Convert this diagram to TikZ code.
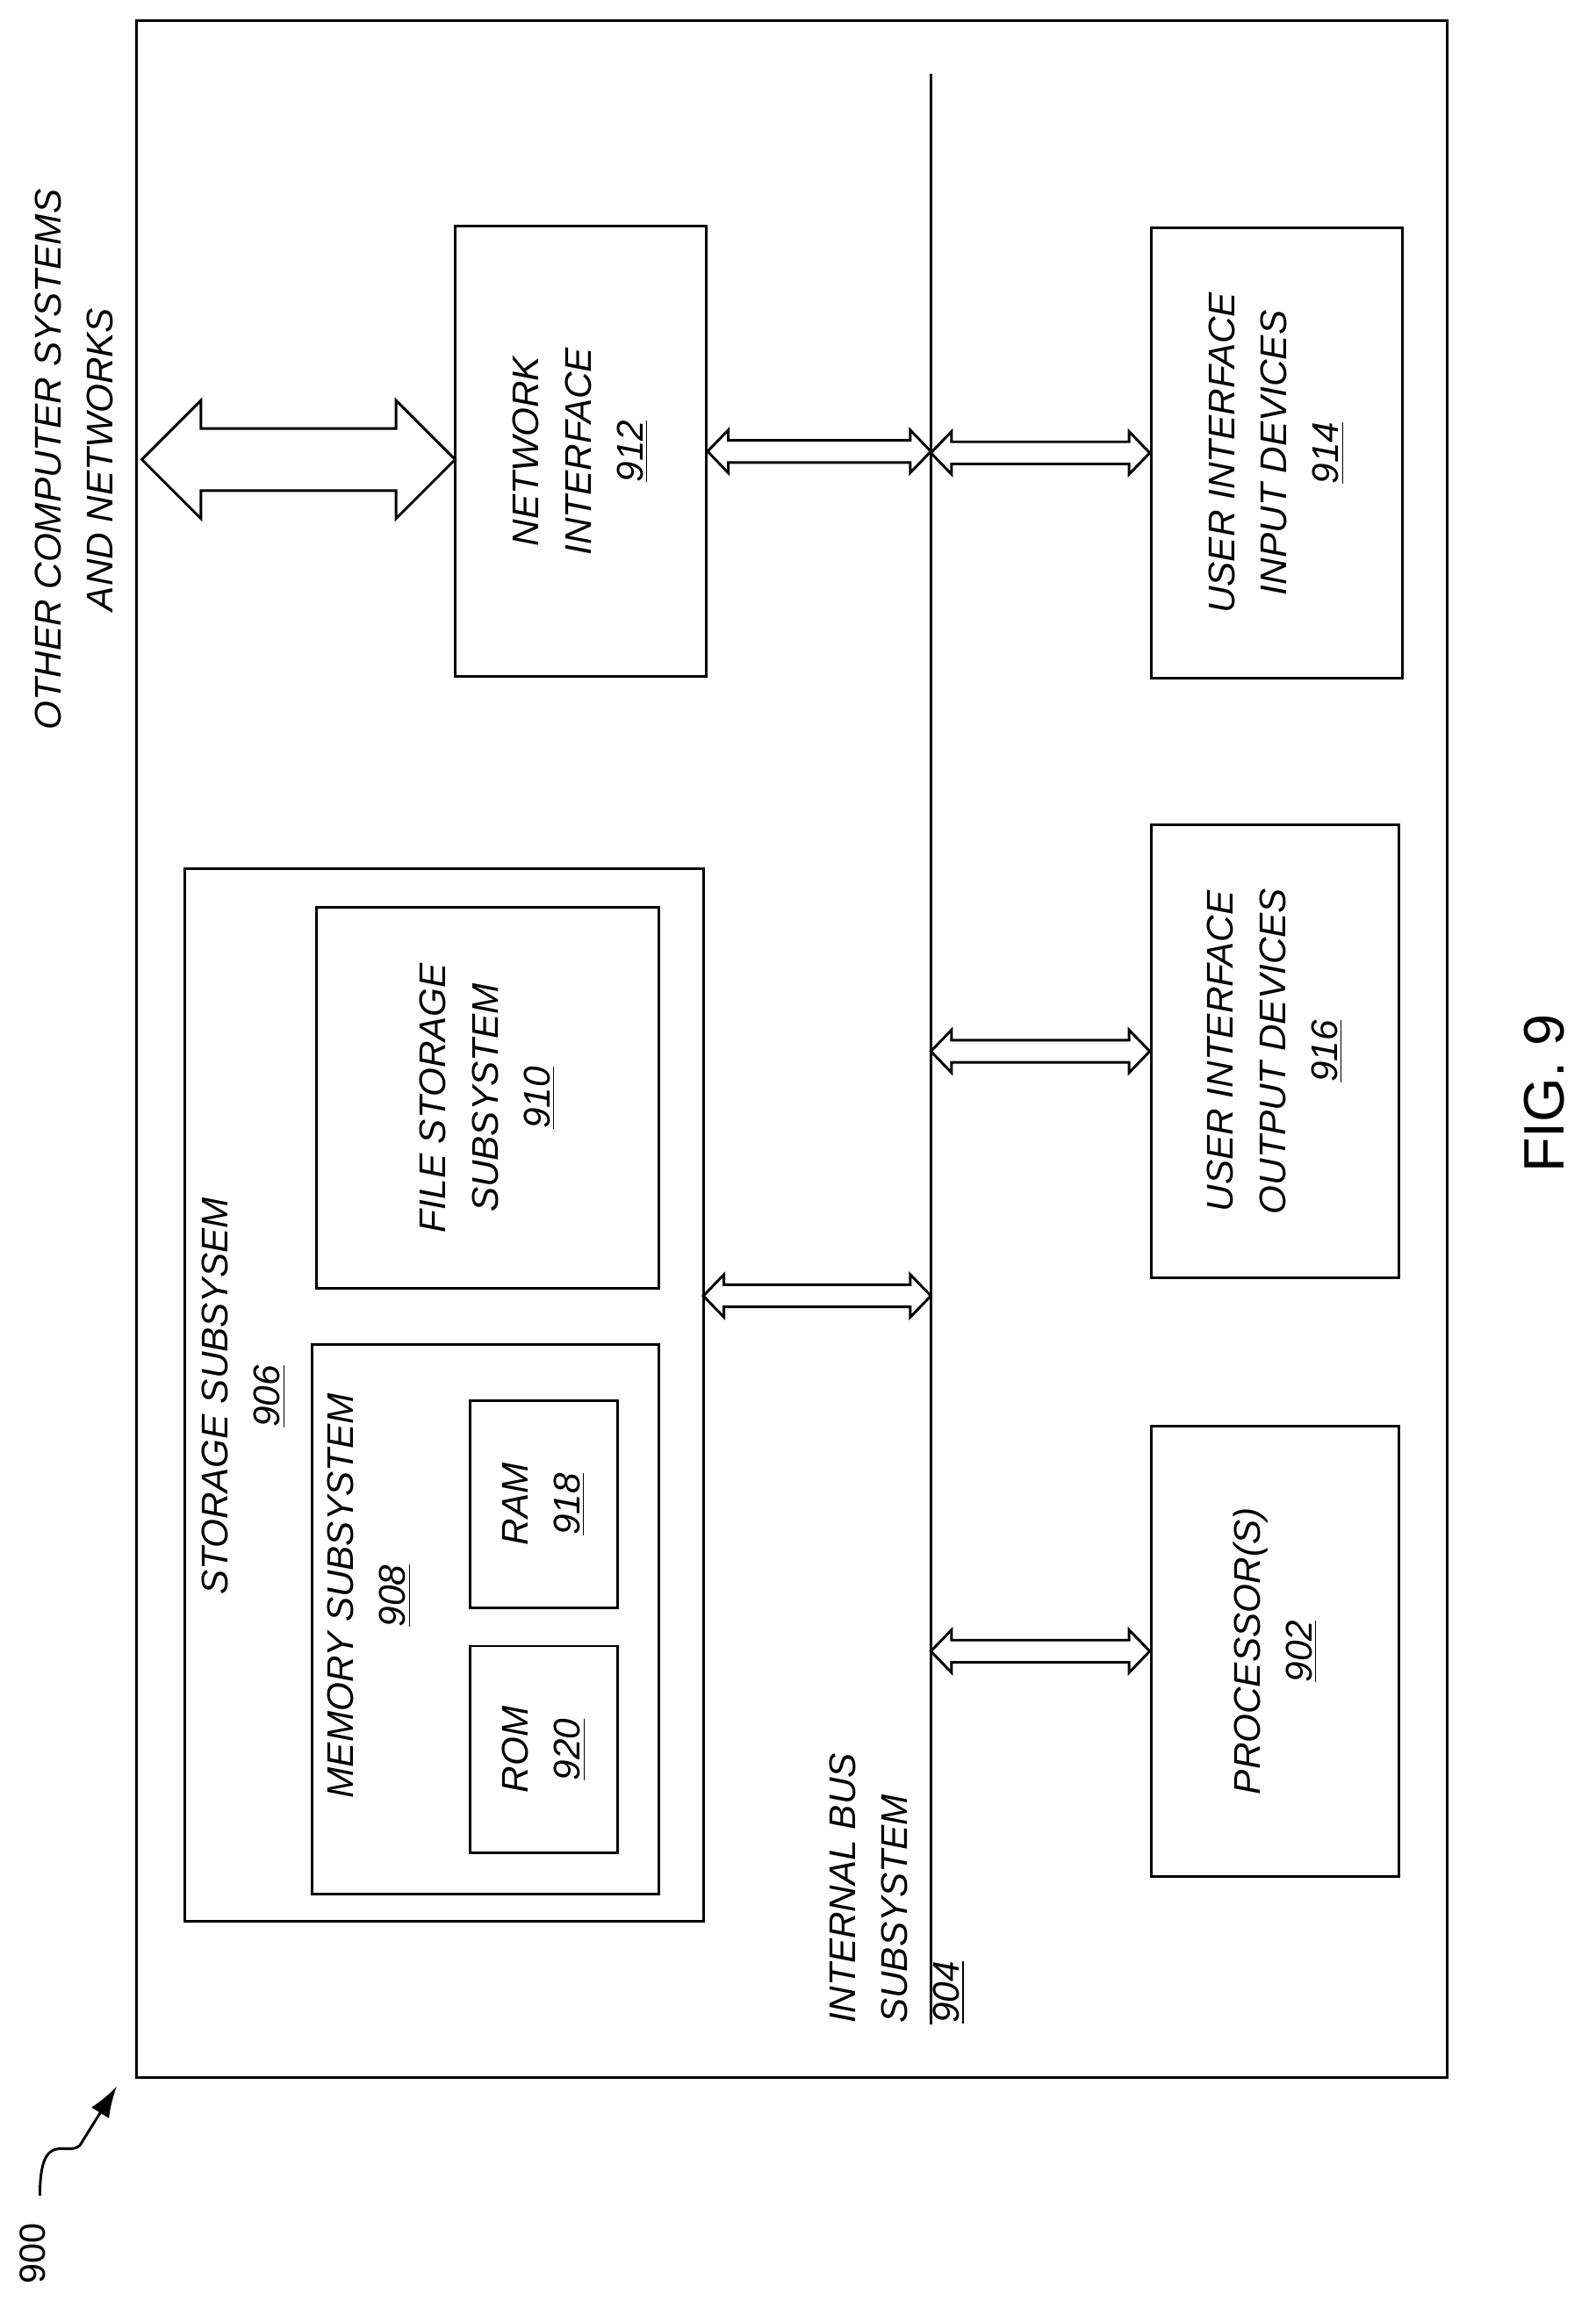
\documentclass[tikz,border=0pt]{standalone}
\usepackage{fontspec}
\setmainfont{Liberation Sans}
\usetikzlibrary{calc,arrows.meta}
\newcommand\dbarrow[5]{%
\draw[arr] (#1) -- ++(#5,-#4) -- ++(0,#4-#3) -- ($(#2)+(-#5,-#3)$) -- ++(0,#3-#4) -- (#2) -- ++(-#5,#4) -- ++(0,#3-#4) -- ($(#1)+(#5,#3)$) -- ++(0,#4-#3) -- cycle;}
\begin{document}
\begin{tikzpicture}[x=0.02cm,y=-0.02cm,
 box/.style={draw,line width=1pt,inner sep=0pt},
 arr/.style={draw,line width=1pt,fill=white,line join=miter},
 lbl/.style={rotate=90,align=center,font=\fontsize{14.3}{20}\selectfont\itshape}]
\useasboundingbox (0,0) rectangle (1080,1562);
\node[box,minimum width=887*0.02cm,minimum height=1392*0.02cm] (outer) at (536,710) {};
\coordinate (bt) at (630,50);
\coordinate (bb) at (630,1370);
\draw[line width=0.8pt] (bt) -- (bb);
\node[box,minimum width=170*0.02cm,minimum height=305*0.02cm] (net) at (393,305.5) {};
\node[box,minimum width=170*0.02cm,minimum height=305*0.02cm] (uiin) at (864,306.5) {};
\node[box,minimum width=168*0.02cm,minimum height=307*0.02cm] (uiout) at (863,711.5) {};
\node[box,minimum width=168*0.02cm,minimum height=305*0.02cm] (proc) at (863,1117.5) {};
\node[box,minimum width=351*0.02cm,minimum height=712*0.02cm] (stor) at (300.5,944) {};
\node[box,minimum width=232*0.02cm,minimum height=258*0.02cm] (file) at (330,743) {};
\node[box,minimum width=235*0.02cm,minimum height=372*0.02cm] (mem) at (328.5,1096) {};
\node[box,minimum width=100*0.02cm,minimum height=140*0.02cm] (ram) at (368,1018) {};
\node[box,minimum width=100*0.02cm,minimum height=140*0.02cm] (rom) at (368,1184) {};
% labels
\node[lbl] (tnet) at (net) {NETWORK\\INTERFACE\\\underline{912}};
\node[lbl] (tuiin) at (uiin) {USER INTERFACE\\INPUT DEVICES\\\underline{914}};
\node[lbl] (tuiout) at (uiout) {USER INTERFACE\\OUTPUT DEVICES\\\underline{916}};
\node[lbl] (tproc) at (proc) {PROCESSOR(S)\\\underline{902}};
\node[lbl] (tfile) at (file) {FILE STORAGE\\SUBSYSTEM\\\underline{910}};
\node[lbl] (tram) at (ram) {RAM\\\underline{918}};
\node[lbl] (trom) at (rom) {ROM\\\underline{920}};
\node[lbl] (tstor) at (165,945) {STORAGE SUBSYSEM\\\underline{906}};
\node[lbl] (tmem) at (250,1080) {MEMORY SUBSYSTEM\\\underline{908}};
\node[lbl,align=left] (tbus) at (607,1278) {INTERNAL BUS\\SUBSYSTEM\\\underline{904}};
\node[lbl] (tother) at (50,311) {OTHER COMPUTER SYSTEMS\\AND NETWORKS};
\node[rotate=90,font=\fontsize{22}{26}\selectfont] (fig) at (1045,740) {FIG. 9};
\node[rotate=90,font=\fontsize{14}{16}\selectfont] (n900) at (22,1525) {900};
% arrows
\coordinate (o1) at (96,311);
\coordinate (o2) at (308,311);
\dbarrow{o1}{o2}{21}{40}{40}
\dbarrow{net.east}{net.east -| bt}{7.5}{14.5}{14}
\dbarrow{uiin.west -| bt}{uiin.west}{7.5}{14.5}{14}
\dbarrow{uiout.west -| bt}{uiout.west}{7.5}{14.5}{14}
\dbarrow{proc.west -| bt}{proc.west}{7.5}{14.5}{14}
\coordinate (s1) at (476,877);
\dbarrow{s1}{s1 -| bt}{7.5}{14.5}{14}
% 900 pointer
\coordinate (p0) at (27,1486);
\coordinate (p1) at (79,1412);
\draw[line width=1pt,-{Latex[length=12pt,width=8pt]}] (p0) .. controls (27,1440) and (45,1460) .. (54,1452) -- (p1);
\end{tikzpicture}
\end{document}
